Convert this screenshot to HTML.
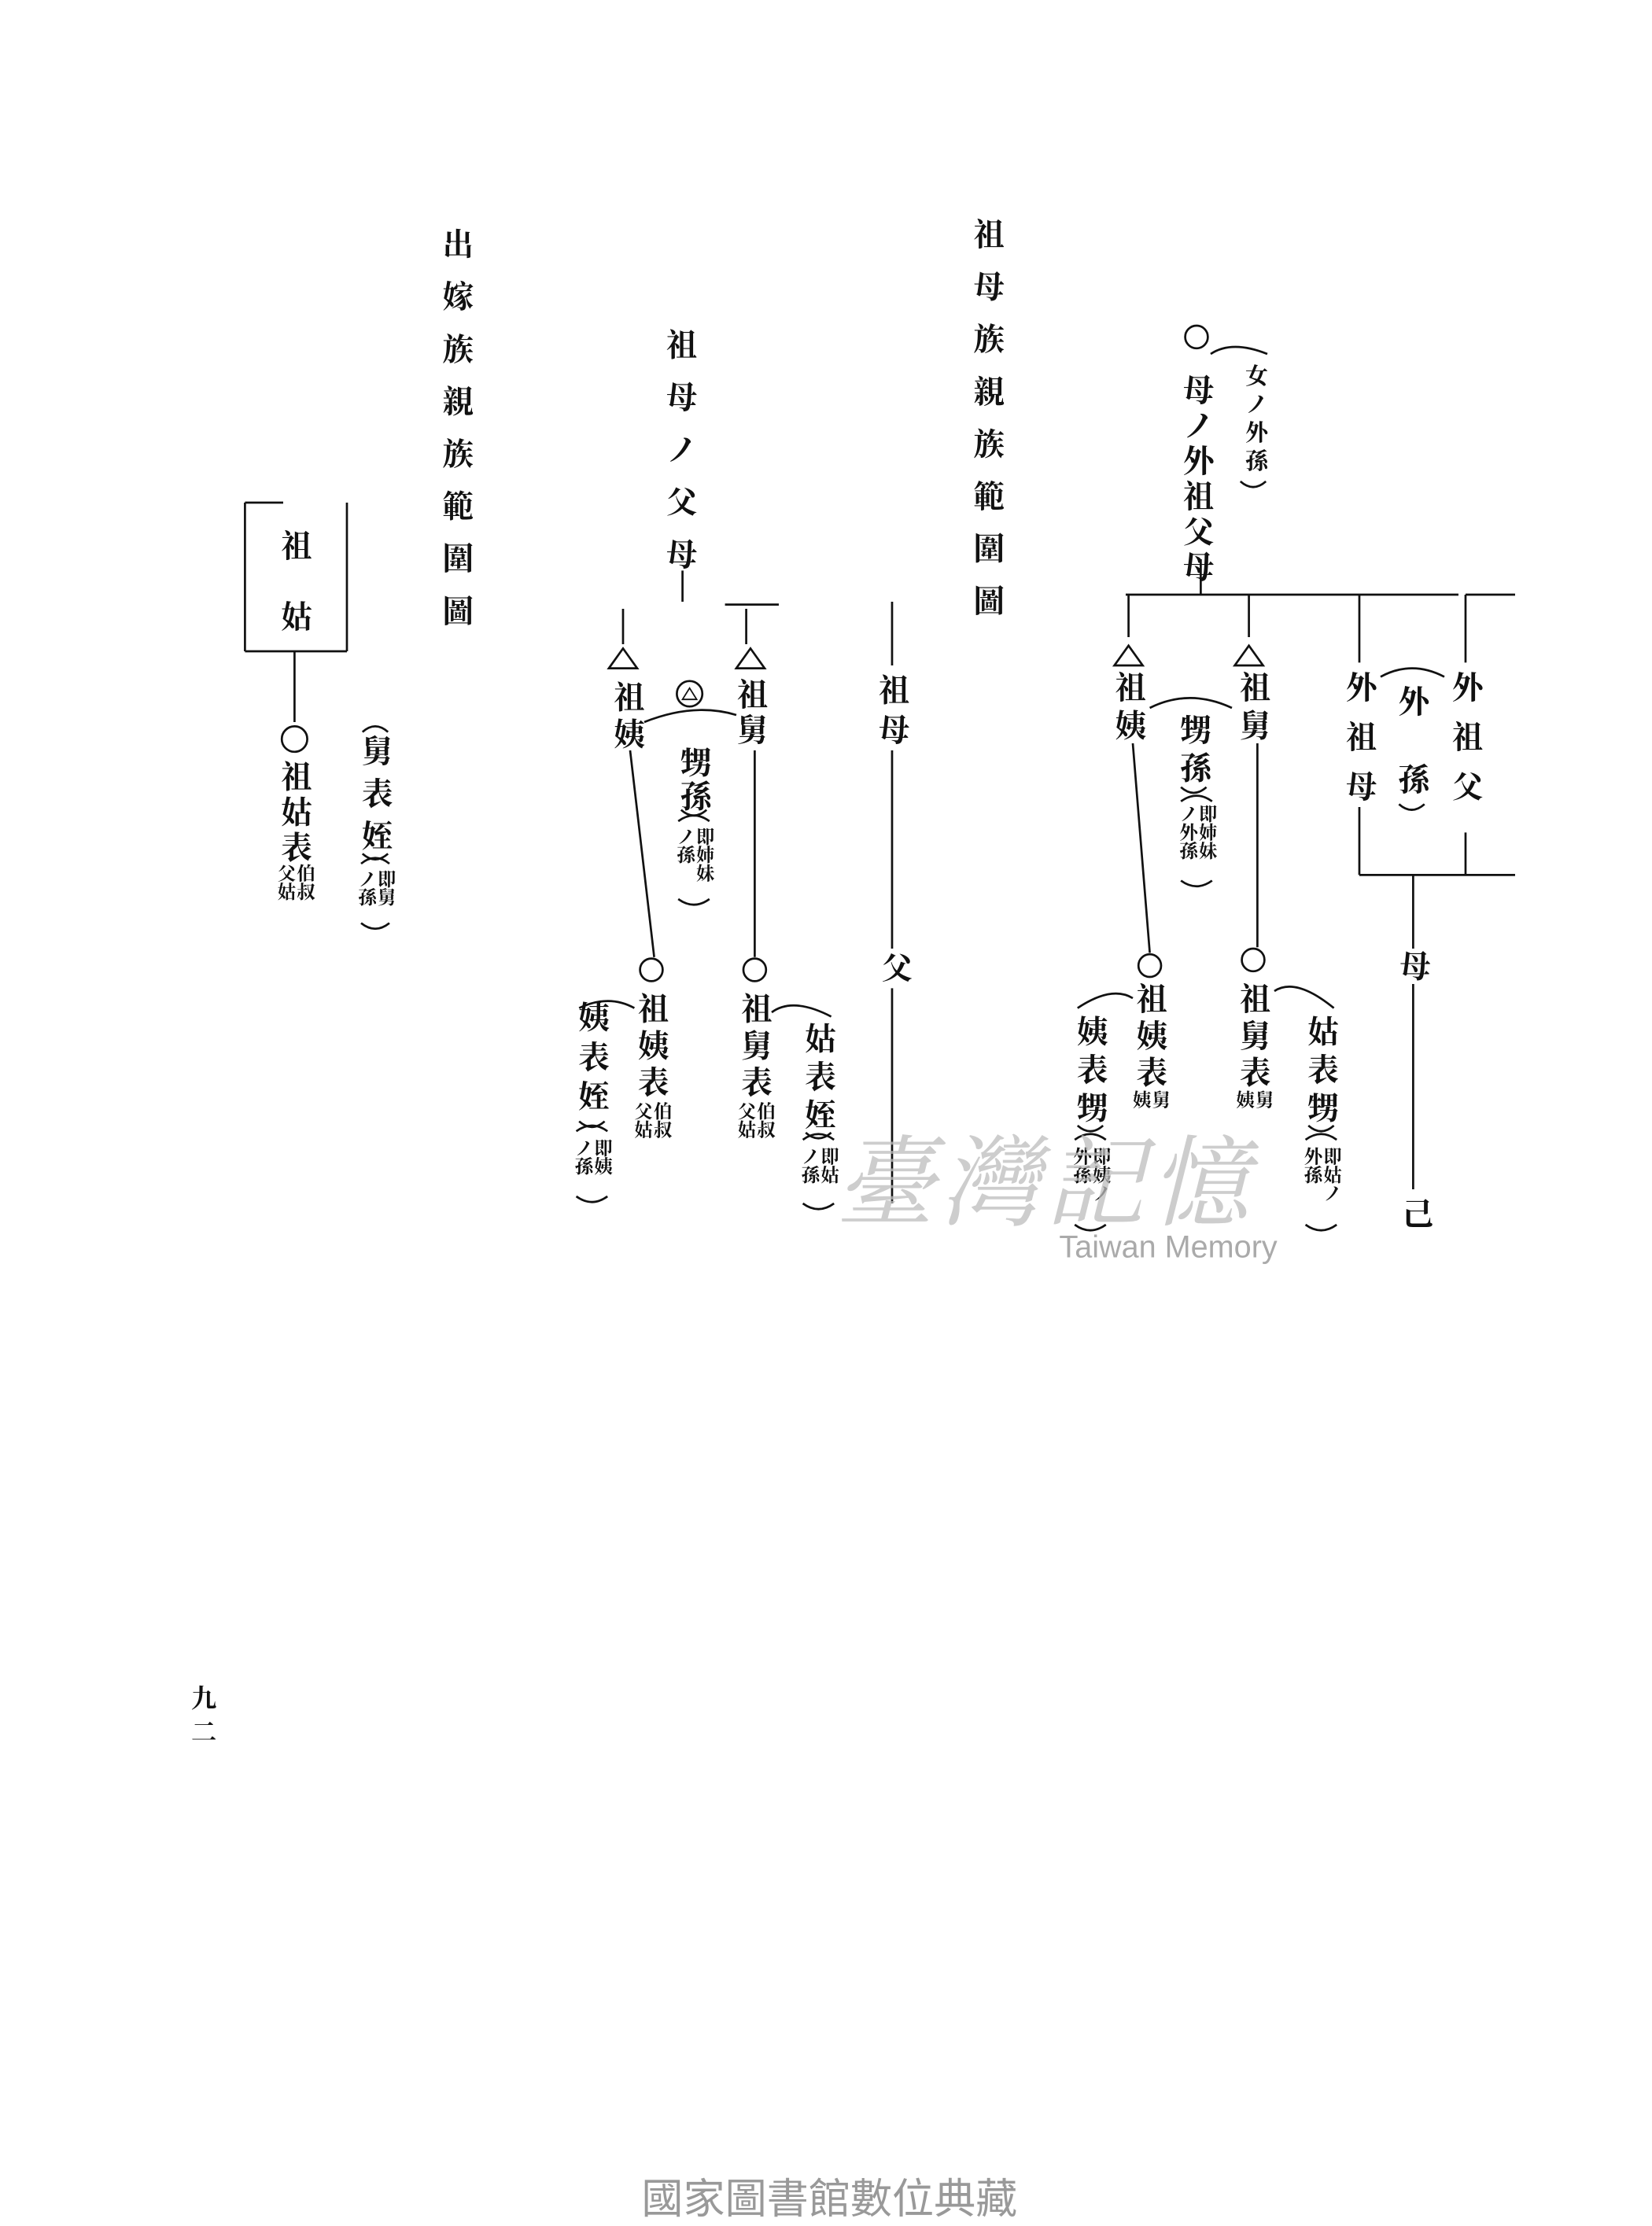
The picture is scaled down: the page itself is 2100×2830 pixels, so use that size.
<!DOCTYPE html>
<html><head><meta charset="utf-8">
<style>
html,body{margin:0;padding:0;background:#fff;}
body{width:2100px;height:2800px;overflow:hidden;position:relative;}
#s{position:absolute;left:0;top:0;width:1166.67px;height:1555.56px;transform:scale(1.8);transform-origin:0 0;}
.v{position:absolute;writing-mode:vertical-rl;font-family:"Liberation Serif","Noto Serif CJK SC","Noto Sans CJK JP",serif;font-weight:bold;font-size:22px;line-height:1;transform:translateX(-50%);color:#111;white-space:nowrap;}
.sm{font-size:13px;line-height:1.05;white-space:normal;}
svg{position:absolute;left:0;top:0;}
</style></head><body>
<div id="s">
<svg width="1166.67" height="1555.56" viewBox="0 0 1166.67 1555.56" fill="none" stroke="#111" stroke-width="1.5">
<line x1="848" y1="395" x2="848" y2="420"/>
<line x1="795" y1="420" x2="1030" y2="420"/>
<line x1="1035" y1="420" x2="1070" y2="420"/>
<line x1="797" y1="420" x2="797" y2="450"/>
<polygon points="787,470 797,456 807,470"/>
<line x1="882" y1="420" x2="882" y2="450"/>
<polygon points="872,470 882,456 892,470"/>
<line x1="960" y1="420" x2="960" y2="468"/>
<line x1="960" y1="570" x2="960" y2="618"/>
<line x1="1035" y1="420" x2="1035" y2="468"/>
<line x1="1035" y1="588" x2="1035" y2="618"/>
<line x1="960" y1="618" x2="1070" y2="618"/>
<line x1="998" y1="618" x2="998" y2="670"/>
<line x1="998" y1="695" x2="998" y2="840"/>
<line x1="800" y1="525" x2="812" y2="673"/>
<line x1="888" y1="525" x2="888" y2="669"/>
<circle cx="845" cy="238" r="8"/>
<circle cx="812" cy="682" r="8"/>
<circle cx="885" cy="678" r="8"/>
<path d="M855 250 Q870 240 895 250"/>
<path d="M876 340 Q885 348 894 340"/>
<path d="M975 478 Q997 466 1020 478"/>
<path d="M988 568 Q997 576 1006 568"/>
<path d="M812 500 Q840 486 870 500"/>
<path d="M834 556 Q843 564 852 556"/>
<path d="M834 566 Q845 558 856 566"/>
<path d="M834 622 Q845 630 856 622"/>
<path d="M800 705 Q785 696 761 712"/>
<path d="M761 795 Q770 803 779 795"/>
<path d="M759 805 Q770 797 781 805"/>
<path d="M759 865 Q770 873 781 865"/>
<path d="M900 700 Q915 690 942 712"/>
<path d="M924 795 Q933 803 942 795"/>
<path d="M922 805 Q933 797 944 805"/>
<path d="M922 865 Q933 873 944 865"/>
<line x1="482" y1="403" x2="482" y2="425"/>
<line x1="512" y1="427" x2="550" y2="427"/>
<line x1="440" y1="430" x2="440" y2="455"/>
<polygon points="430,472 440,458 450,472"/>
<line x1="527" y1="430" x2="527" y2="455"/>
<polygon points="520,472 530,458 540,472"/>
<line x1="630" y1="425" x2="630" y2="470"/>
<line x1="630" y1="530" x2="630" y2="670"/>
<line x1="630" y1="698" x2="630" y2="850"/>
<line x1="445" y1="530" x2="462" y2="676"/>
<line x1="533" y1="530" x2="533" y2="676"/>
<circle cx="487" cy="490" r="9"/>
<polygon points="482,494 487,486 492,494" stroke-width="1"/>
<circle cx="460" cy="685" r="8"/>
<circle cx="533" cy="685" r="8"/>
<path d="M455 510 Q490 496 520 505"/>
<path d="M481 572 Q490 580 499 572"/>
<path d="M479 580 Q490 572 501 580"/>
<path d="M479 635 Q490 643 501 635"/>
<path d="M448 712 Q430 702 409 712"/>
<path d="M409 792 Q418 800 427 792"/>
<path d="M407 799 Q418 791 429 799"/>
<path d="M407 845 Q418 853 429 845"/>
<path d="M545 715 Q560 704 587 718"/>
<path d="M569 800 Q578 808 587 800"/>
<path d="M567 805 Q578 797 589 805"/>
<path d="M567 850 Q578 858 589 850"/>
<line x1="173" y1="355" x2="200" y2="355"/>
<line x1="173" y1="355" x2="173" y2="460"/>
<line x1="245" y1="355" x2="245" y2="460"/>
<line x1="173" y1="460" x2="245" y2="460"/>
<line x1="208" y1="460" x2="208" y2="510"/>
<circle cx="208" cy="522" r="9"/>
<path d="M256 517 Q265 509 274 517"/>
<path d="M256 603 Q265 611 274 603"/>
<path d="M255 610 Q265 602 275 610"/>
<path d="M255 652 Q265 660 275 652"/>
</svg>

<div class="v" style="left:697px;top:154px;letter-spacing:15px">祖母族親族範圍圖</div>
<div class="v" style="left:322px;top:161px;letter-spacing:15px">出嫁族親族範圍圖</div>
<div class="v" style="left:480px;top:232px;letter-spacing:15px">祖母ノ父母</div>

<div class="v" style="left:845px;top:264px;letter-spacing:3px">母ノ外祖父母</div>
<div class="v" style="left:885px;top:257px;font-size:16px;letter-spacing:4px">女ノ外孫</div>
<div class="v" style="left:960px;top:474px;letter-spacing:13px">外祖母</div>
<div class="v" style="left:1035px;top:474px;letter-spacing:13px">外祖父</div>
<div class="v" style="left:997px;top:484px;letter-spacing:33px">外孫</div>
<div class="v" style="left:797px;top:474px;letter-spacing:5px">祖姨</div>
<div class="v" style="left:885px;top:474px;letter-spacing:5px">祖舅</div>
<div class="v" style="left:843px;top:504px;letter-spacing:5px">甥孫</div>
<div class="v sm" style="left:845px;top:568px;height:40px">即姉妹ノ外孫</div>
<div class="v" style="left:812px;top:694px;letter-spacing:4px">祖姨表</div>
<div class="v sm" style="left:812px;top:770px;height:14px">舅姨</div>
<div class="v" style="left:885px;top:694px;letter-spacing:4px">祖舅表</div>
<div class="v sm" style="left:885px;top:770px;height:14px">舅姨</div>
<div class="v" style="left:770px;top:717px;letter-spacing:5px">姨表甥</div>
<div class="v sm" style="left:770px;top:810px;height:40px">即姨ノ外孫</div>
<div class="v" style="left:933px;top:717px;letter-spacing:5px">姑表甥</div>
<div class="v sm" style="left:933px;top:810px;height:40px">即姑ノ外孫</div>
<div class="v" style="left:998px;top:671px">母</div>
<div class="v" style="left:1000px;top:846px">己</div>

<div class="v" style="left:443px;top:481px;letter-spacing:4px">祖姨</div>
<div class="v" style="left:530px;top:479px;letter-spacing:3px">祖舅</div>
<div class="v" style="left:490px;top:527px;letter-spacing:2px">甥孫</div>
<div class="v sm" style="left:490px;top:584px;height:40px">即姉妹ノ孫</div>
<div class="v" style="left:460px;top:701px;letter-spacing:4px">祖姨表</div>
<div class="v sm" style="left:460px;top:778px;height:28px">伯叔父姑</div>
<div class="v" style="left:533px;top:701px;letter-spacing:4px">祖舅表</div>
<div class="v sm" style="left:533px;top:778px;height:28px">伯叔父姑</div>
<div class="v" style="left:418px;top:707px;letter-spacing:6px">姨表姪</div>
<div class="v sm" style="left:418px;top:804px;height:28px">即姨ノ孫</div>
<div class="v" style="left:578px;top:722px;letter-spacing:5px">姑表姪</div>
<div class="v sm" style="left:578px;top:810px;height:28px">即姑ノ孫</div>
<div class="v" style="left:630px;top:476px;letter-spacing:6px">祖母</div>
<div class="v" style="left:632px;top:672px">父</div>

<div class="v" style="left:208px;top:374px;letter-spacing:28px">祖姑</div>
<div class="v" style="left:208px;top:537px;letter-spacing:3px">祖姑表</div>
<div class="v sm" style="left:208px;top:610px;height:28px">伯叔父姑</div>
<div class="v" style="left:265px;top:519px;letter-spacing:8px">舅表姪</div>
<div class="v sm" style="left:265px;top:614px;height:28px">即舅ノ孫</div>

<div class="v" style="left:143px;top:1190px;font-size:18px;letter-spacing:6px">九二</div>

<div style="position:absolute;left:590px;top:780px;font-family:'Noto Serif CJK SC',serif;font-size:70px;color:#bdbdbd;opacity:.75;font-style:italic;letter-spacing:4px;white-space:nowrap">臺灣記憶</div>
<div style="position:absolute;left:748px;top:868px;font-family:'Liberation Sans',sans-serif;font-size:22px;color:#aaa;white-space:nowrap">Taiwan Memory</div>
<div style="position:absolute;left:453px;top:1530px;font-family:'Liberation Sans','Noto Sans CJK TC',sans-serif;font-size:29.5px;color:#999;white-space:nowrap">國家圖書館數位典藏</div>
</div>
</body></html>
